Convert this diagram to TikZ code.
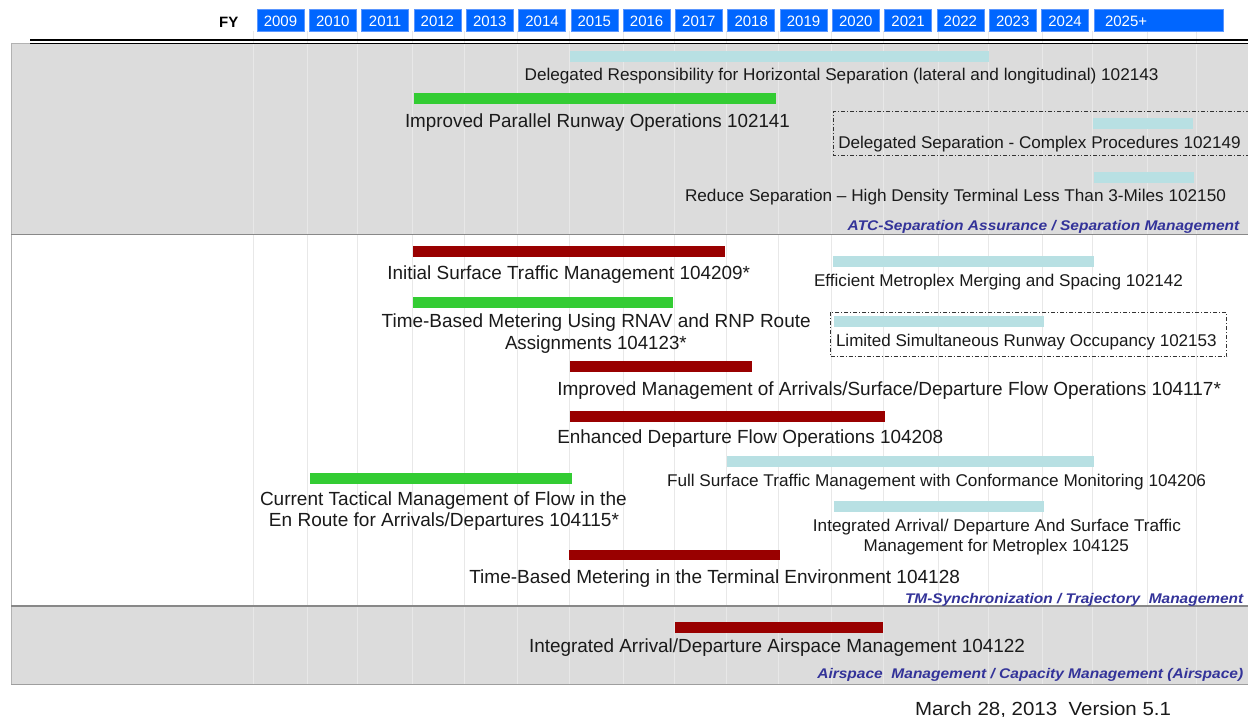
\documentclass[tikz,border=0pt]{standalone}
\usepackage{fontspec}
\setmainfont{Liberation Sans}
\usepackage{graphicx}
\definecolor{bandgray}{HTML}{DCDCDC}
\definecolor{gridc}{HTML}{E8E8E8}
\definecolor{cyanbar}{HTML}{B8E0E3}
\definecolor{greenbar}{HTML}{33CC33}
\definecolor{redbar}{HTML}{990000}
\definecolor{catblue}{HTML}{333399}
\definecolor{txt}{HTML}{1A1A1A}
\definecolor{yrblue}{HTML}{0066FF}
\definecolor{yrborder}{HTML}{5A96FF}
\definecolor{bandline}{HTML}{888888}
\newlength\fitlen
\newcommand\fitto[2]{\settowidth\fitlen{#2}\pgfmathsetmacro\fitratio{(#1)/\fitlen}\scalebox{\fitratio}[1]{#2}}
\newcommand\lbl[6][]{\node[lab,#1] (#2) at ({(#3+#4)/2},#5) {\fitto{#4-#3}{#6}};}
\tikzset{
  lab/.style={anchor=base, inner sep=0pt, text=txt, font=\fontsize{19}{22}\selectfont},
  small/.style={font=\fontsize{17}{20}\selectfont},
  cat/.style={font=\fontsize{14}{16}\selectfont\bfseries\itshape, text=catblue},
  yearbox/.style={fill=yrblue, draw=yrborder, line width=0.6pt, text=white,
    font=\fontsize{15}{18}\selectfont, minimum width=47pt, minimum height=21.5pt,
    inner sep=0pt, text height=12.8pt, text depth=0pt},
  gridl/.style={draw=gridc, line width=1pt},
  dashbox/.style={draw=black!80, line width=0.9pt, dash pattern=on 4pt off 2pt on 1pt off 2pt},
}
\begin{document}
\begin{tikzpicture}[x=1pt,y=-1pt]
\useasboundingbox (0,0) rectangle (1248,717);
\fill[white] (0,0) rectangle (1248,717);
% bands
\fill[bandgray] (11,43) rectangle (1248,234.3);
\fill[bandgray] (11,606) rectangle (1248,684);
% grid lines
\foreach \x in {253,307.5,357,412.5,464.5,517,569,623,674,726,778,831.5,883.5,938,988,1042.5,1092.5,1147,1196}
  \draw[gridl] (\x,31) -- (\x,684);
% band borders
\draw[draw=black!30, line width=0.8pt] (11,43) -- (1248,43);
\draw[draw=black!30, line width=0.8pt] (11,43) -- (11,684);
\draw[draw=bandline, line width=1.2pt] (11,234.3) -- (1248,234.3);
\draw[draw=bandline, line width=1.2pt] (11,606) -- (1248,606);
\draw[draw=black!38, line width=1.5pt] (11,684.3) -- (1248,684.3);
% double rule
\draw[line width=1.3pt] (30,40) -- (1248,40);
\draw[line width=1.3pt] (30,43.6) -- (1248,43.6);
% bars band 1
\fill[cyanbar] (570,51) rectangle (989,61.7);
\fill[greenbar] (414,93) rectangle (776,103.7);
\fill[cyanbar] (1093,118) rectangle (1193,128.7);
\fill[cyanbar] (1094,172) rectangle (1194,182.7);
% bars band 2
\fill[redbar] (413,246.3) rectangle (725,256.7);
\fill[cyanbar] (833,256) rectangle (1094,266.7);
\fill[greenbar] (413,297.3) rectangle (672.7,307.7);
\fill[cyanbar] (834,316) rectangle (1044,326.7);
\fill[redbar] (570,361) rectangle (752,371.7);
\fill[redbar] (570,411) rectangle (885,421.7);
\fill[cyanbar] (727,456) rectangle (1094,466.7);
\fill[greenbar] (310,473.3) rectangle (572,484);
\fill[cyanbar] (834,501) rectangle (1044,511.7);
\fill[redbar] (568.7,549.5) rectangle (780,560);
% bars band 3
\fill[redbar] (675,622) rectangle (882.7,632.7);
% dashed boxes
\draw[dashbox] (1250,111) -- (833.7,111) -- (833.7,155) -- (1250,155);
\draw[dashbox] (830,312.3) rectangle (1226.7,356.7);
% labels band 1
\lbl[small]{l102143}{524.6}{1158.6}{80.7}{Delegated Responsibility for Horizontal Separation (lateral and longitudinal) 102143}
\lbl{l102141}{405}{790}{127.3}{Improved Parallel Runway Operations 102141}
\lbl[small]{l102149}{838.3}{1240.7}{148.3}{Delegated Separation - Complex Procedures 102149}
\lbl[small]{l102150}{685}{1226}{201.7}{Reduce Separation – High Density Terminal Less Than 3-Miles 102150}
\lbl[cat]{catatc}{847.7}{1239.3}{230.7}{ATC-Separation Assurance / Separation Management}
% labels band 2
\lbl{l104209}{387.3}{750}{279.3}{Initial Surface Traffic Management 104209*}
\lbl[small]{l102142}{814}{1183}{286}{Efficient Metroplex Merging and Spacing 102142}
\lbl{l104123a}{381.7}{810.7}{327.7}{Time-Based Metering Using RNAV and RNP Route}
\lbl{l104123b}{505}{686.7}{349.3}{Assignments 104123*}
\lbl[small]{l102153}{836}{1216.7}{346.7}{Limited Simultaneous Runway Occupancy 102153}
\lbl{l104117}{557.3}{1221}{395}{Improved Management of Arrivals/Surface/Departure Flow Operations 104117*}
\lbl{l104208}{557.3}{943.3}{443.3}{Enhanced Departure Flow Operations 104208}
\lbl[small]{l104206}{667}{1206}{486}{Full Surface Traffic Management with Conformance Monitoring 104206}
\lbl{l104115a}{260}{626.7}{505}{Current Tactical Management of Flow in the}
\lbl{l104115b}{269}{619}{526.7}{En Route for Arrivals/Departures 104115*}
\lbl[small]{l104125a}{812.9}{1180.9}{531.7}{Integrated Arrival/ Departure And Surface Traffic}
\lbl[small]{l104125b}{863.6}{1129}{551}{Management for Metroplex 104125}
\lbl{l104128}{469.3}{960}{583}{Time-Based Metering in the Terminal Environment 104128}
\lbl[cat]{cattm}{905}{1243.3}{603.3}{TM-Synchronization / Trajectory~~Management}
% labels band 3
\lbl{l104122}{529}{1025}{652.7}{Integrated Arrival/Departure Airspace Management 104122}
\lbl[cat]{catair}{817.3}{1243.3}{678.3}{Airspace~~Management / Capacity Management (Airspace)}
% date
\lbl{date}{915}{1171}{715}{March 28, 2013~~Version 5.1}
% header
\node[anchor=base, inner sep=0pt, font=\fontsize{15}{18}\selectfont\bfseries, text=black] (fy) at (228.8,27.3) {FY};
\foreach \yr [count=\i from 0] in {2009,2010,2011,2012,2013,2014,2015,2016,2017,2018,2019,2020,2021,2022,2023,2024}
  \node[yearbox] (yr\yr) at ({280.5+52.3*\i},20.25) {\yr};
\node[yearbox, minimum width=129pt, text width=107pt, align=left, inner xsep=11pt] (yr2025) at (1158.5,20.25) {2025+};
\end{tikzpicture}
\end{document}
